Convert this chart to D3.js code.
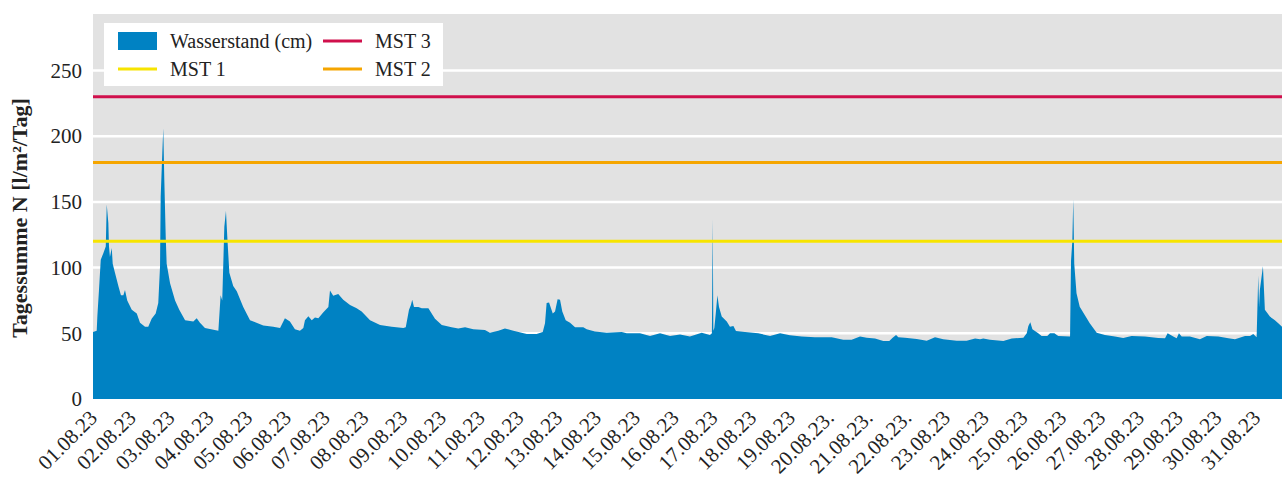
<!DOCTYPE html>
<html>
<head>
<meta charset="utf-8">
<script src="https://cdn.jsdelivr.net/npm/d3@7"></script>
<style>
  html, body { margin: 0; padding: 0; background: #fff; }
  svg { display: block; font-family: "Liberation Serif", "Times New Roman", serif; }
</style>
</head>
<body>
<svg id="chart" width="1282" height="477"></svg>
<script>
// Stunden ab 01.08.23 00:00 und Wasserstand (cm)
var hours = [
  0, 2.3, 2.7, 3.7, 4.8, 6.4, 7.9, 8.5, 9.5, 9.9, 10.5, 11.6, 12.2, 13.6, 15.7, 17.3, 18.8, 19.8, 21.2,
  24.0, 27.1, 29.1, 32.2, 34.2, 36.3, 38.8, 40.4, 41.5, 41.9, 42.9, 43.5, 44.1, 45.0, 45.6, 47.7,
  50.8, 53.4, 57.0, 62.1, 64.2, 66.2, 69.3, 77.6, 79.0, 80.0, 81.3, 82.3, 83.1, 84.4, 86.8, 89.0,
  93.0, 97.2, 105.4, 111.6, 115.8, 118.8, 121.9, 125.0, 128.1, 130.2, 131.2, 133.3, 135.4, 137.4,
  139.5, 142.6, 145.7, 146.7, 148.7, 151.8, 154.9, 159.1, 163.2, 166.3, 171.5, 177.7, 184.9, 192.1,
  193.6, 195.6, 196.8, 197.6, 198.7, 201.4, 203.5, 207.6, 211.7, 215.9, 222.0, 226.1, 230.3, 235.4,
  242.6, 245.7, 250.9, 255.0, 260.2, 268.5, 274.6, 278.4, 279.8, 280.8, 282.3, 284.6, 286.0, 287.6,
  289.1, 290.5, 292.6, 295.3, 298.4, 303.5, 305.6, 310.7, 318.0, 327.3, 330.4, 338.6, 344.8, 351.0,
  357.2, 363.4, 369.5, 376.8, 381.9, 383.1, 383.6, 384.0, 384.6, 385.5, 386.5, 387.5, 389.2, 392.3,
  394.3, 396.4, 398.0, 403.6, 411.8, 419.1, 425.3, 431.4, 438.7, 446.9, 457.3, 464.4, 469.6, 474.8,
  478.9, 484.1, 489.2, 492.9, 495.0, 497.1, 498.5, 502.6, 509.9, 516.1, 521.2, 526.3, 534.6, 540.8,
  546.0, 549.1, 551.1, 555.2, 563.5, 568.7, 575.9, 578.0, 579.0, 580.2, 581.5, 585.1, 587.2, 590.7,
  592.4, 595.1, 597.5, 604.8, 605.4, 606.2, 606.8, 607.4, 608.8, 610.8, 613.9, 617.0, 621.3, 626.4,
  632.6, 637.7, 642.9, 651.2, 659.4, 663.6, 665.2, 668.7, 670.8, 672.2, 673.9, 679.0, 685.2, 689.4,
  696.6, 702.8, 706.9, 713.1, 716.2, 718.2, 720.3, 721.3, 721.8, 722.3, 724.2, 725.4, 728.5, 731.6,
  733.7, 736.0
];
var level = [
  51, 52, 63, 83, 106, 111, 116, 148, 134, 116, 108, 115, 103, 96, 86, 79, 79, 83, 75,
  68, 65, 58, 55, 55, 61, 65, 73, 101, 154, 187, 206, 169, 124, 103, 88,
  75, 68, 60, 59, 61.5, 58, 54, 52, 79, 75, 131, 143, 124, 96, 86, 82,
  70, 60, 56, 55, 54, 61.5, 59, 53, 52, 54, 60, 63, 60, 62,
  61.5, 66, 70, 82.5, 78.5, 80, 75.5, 71.6, 69, 66.5, 60, 56.4, 55, 54,
  54.6, 68, 71.6, 75.5, 70, 70, 69, 69, 61, 56.4, 54.6, 53.6, 54.6, 53,
  52.6, 50.5, 52, 53.6, 52, 49.5, 49.5, 51, 57.7, 73, 73.4, 65, 66.5, 76,
  75.5, 66.5, 60, 58, 54.6, 54.6, 53, 51.3, 50.5, 51, 50, 50, 48, 50,
  48, 49, 47.5, 50.5, 48.8, 50, 137, 52, 54, 65, 79, 70, 62.7, 59,
  55, 55.6, 51.8, 51, 50, 48, 50, 48.5, 47.5, 47, 47, 45, 45, 47.5,
  46.7, 46, 44.2, 44.2, 46.7, 48.8, 47, 46.7, 45.7, 44.4, 47, 45.5, 44.4, 44.4,
  46, 45.5, 46, 45, 44.2, 46, 46.7, 50, 55.6, 58.5, 53, 50, 48, 48,
  50, 50, 48, 47.5, 105, 120, 152, 103, 80.5, 70.3, 64, 57.7, 50.5, 48.8,
  47.5, 46.5, 48, 47.5, 46.5, 46.3, 50, 47.5, 46.3, 50, 47.5, 47.5, 45.5, 48,
  47.5, 46.3, 45.5, 48, 48, 49.5, 47, 94, 70, 83, 101, 68, 62.7, 60,
  57.7, 55
];

// Schwellenwerte
var mstNames = ["MST 1", "MST 2", "MST 3"];
var mstValues = [120, 180, 230];
var mstColors = ["#f7e400", "#f5a500", "#d0104c"];

var dayLabels = [
  "01.08.23", "02.08.23", "03.08.23", "04.08.23", "05.08.23", "06.08.23", "07.08.23", "08.08.23",
  "09.08.23", "10.08.23", "11.08.23", "12.08.23", "13.08.23", "14.08.23", "15.08.23", "16.08.23",
  "17.08.23", "18.08.23", "19.08.23", "20.08.23.", "21.08.23.", "22.08.23.", "23.08.23", "24.08.23",
  "25.08.23", "26.08.23", "27.08.23", "28.08.23", "29.08.23", "30.08.23", "31.08.23"
];
var yTicks = [0, 50, 100, 150, 200, 250];

var blue = "#0082c3";
var plotLeft = 93, plotRight = 1282, plotTop = 14, plotBottom = 399;

var start = new Date(2023, 7, 1);
var data = hours.map(function (h, i) {
  return { date: new Date(start.getTime() + h * 3600e3), value: level[i] };
});

var svg = d3.select("#chart");

var x = d3.scaleTime()
  .domain([start, new Date(start.getTime() + 736 * 3600e3)])
  .range([plotLeft, plotRight]);

var y = d3.scaleLinear()
  .domain([0, 293])
  .range([plotBottom, plotTop]);

// Hintergrund
svg.append("rect")
  .attr("x", plotLeft).attr("y", plotTop)
  .attr("width", plotRight - plotLeft).attr("height", plotBottom - plotTop)
  .attr("fill", "#e2e2e2");

// Gitterlinien
svg.append("g")
  .selectAll("line")
  .data(yTicks.slice(1))
  .enter().append("line")
  .attr("x1", plotLeft).attr("x2", plotRight)
  .attr("y1", function (d) { return y(d); })
  .attr("y2", function (d) { return y(d); })
  .attr("stroke", "#fff")
  .attr("stroke-width", 2.5);

// Wasserstand
var area = d3.area()
  .x(function (d) { return x(d.date); })
  .y0(y(0))
  .y1(function (d) { return y(d.value); });

svg.append("path")
  .datum(data)
  .attr("d", area)
  .attr("fill", blue);

// MST Linien
svg.append("g")
  .selectAll("line")
  .data(mstValues)
  .enter().append("line")
  .attr("x1", plotLeft).attr("x2", plotRight)
  .attr("y1", function (d) { return y(d); })
  .attr("y2", function (d) { return y(d); })
  .attr("stroke", function (d, i) { return mstColors[i]; })
  .attr("stroke-width", 3);

// y Achse
var yAxis = svg.append("g")
  .attr("transform", "translate(" + plotLeft + ",0)")
  .call(d3.axisLeft(y).tickValues(yTicks).tickSize(0).tickPadding(11));
yAxis.select(".domain").remove();
yAxis.selectAll("text")
  .attr("font-family", "Liberation Serif, serif")
  .attr("font-size", 21)
  .attr("fill", "#222");

// x Achse
var days = d3.timeDay.range(start, new Date(2023, 7, 32));
var xAxis = svg.append("g")
  .attr("transform", "translate(0," + plotBottom + ")")
  .call(d3.axisBottom(x).tickValues(days).tickSize(0)
    .tickFormat(function (d, i) { return dayLabels[i]; }));
xAxis.select(".domain").remove();
xAxis.selectAll("text")
  .attr("font-family", "Liberation Serif, serif")
  .attr("font-size", 21)
  .attr("fill", "#222")
  .attr("text-anchor", "end")
  .attr("dy", null)
  .attr("y", 0)
  .attr("transform", "translate(5,20) rotate(-45)");

// Achsentitel
svg.append("text")
  .attr("transform", "translate(27,218) rotate(-90)")
  .attr("text-anchor", "middle")
  .attr("font-size", 22)
  .attr("font-weight", "bold")
  .attr("fill", "#222")
  .text("Tagessumme N [l/m²/Tag]");

// Legende
var legend = svg.append("g");
legend.append("rect")
  .attr("x", 104).attr("y", 23)
  .attr("width", 339).attr("height", 63)
  .attr("fill", "#fff");

var legendItems = [
  { name: "Wasserstand (cm)", color: blue, rect: true, x: 118, y: 41 },
  { name: mstNames[2], color: mstColors[2], x: 323, y: 41 },
  { name: mstNames[0], color: mstColors[0], x: 118, y: 69 },
  { name: mstNames[1], color: mstColors[1], x: 323, y: 69 }
];
legendItems.forEach(function (d) {
  if (d.rect) {
    legend.append("rect")
      .attr("x", d.x).attr("y", d.y - 9)
      .attr("width", 39).attr("height", 18)
      .attr("fill", d.color);
  } else {
    legend.append("line")
      .attr("x1", d.x).attr("x2", d.x + 39)
      .attr("y1", d.y).attr("y2", d.y)
      .attr("stroke", d.color)
      .attr("stroke-width", 3);
  }
  legend.append("text")
    .attr("x", d.x + 52).attr("y", d.y)
    .attr("dy", "0.33em")
    .attr("font-size", 20)
    .attr("fill", "#222")
    .text(d.name);
});
</script>
</body>
</html>
